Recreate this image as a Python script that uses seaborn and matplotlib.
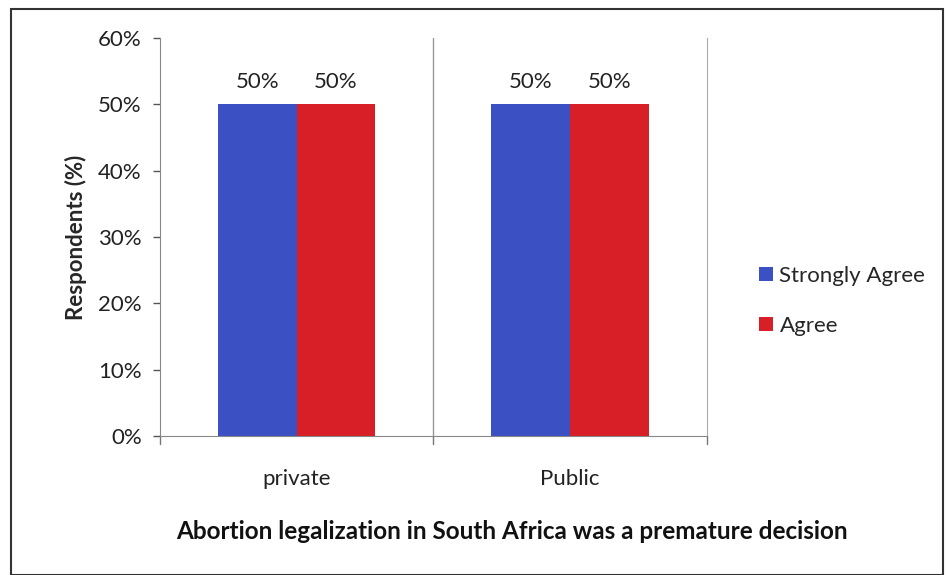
import numpy as np
import pandas as pd
import seaborn as sns
import matplotlib.pyplot as plt
from matplotlib.patches import Rectangle

# data
categories = ["private", "Public"]
responses = ["Strongly Agree", "Agree"]
strongly_agree = [50, 50]
agree = [50, 50]

df = pd.DataFrame({
    "sector": categories * 2,
    "response": [responses[0]] * 2 + [responses[1]] * 2,
    "pct": strongly_agree + agree,
})

sns.set_style("white")
plt.rcParams["font.family"] = ["Lato", "DejaVu Sans"]

fig = plt.figure(figsize=(9.46, 5.75), dpi=100)
ax = fig.add_axes([0.169, 0.2417, 0.578, 0.6923])

palette = {"Strongly Agree": "#3b50c2", "Agree": "#d81e26"}
sns.barplot(data=df, x="sector", y="pct", hue="response", palette=palette,
            width=0.575, saturation=1, linewidth=0, ax=ax, legend=True)

ax.set_xlim(-0.5, 1.5)
ax.set_ylim(0, 60)
ax.set_yticks(np.arange(0, 61, 10))
ax.set_yticklabels([f"{v}%" for v in range(0, 61, 10)], fontsize=16, color="#222222")
ax.set_xticks([0, 1])
ax.set_xticklabels(categories, fontsize=16, color="#222222")
ax.tick_params(axis="x", length=0, pad=24)
ax.tick_params(axis="y", length=5, width=1, color="#555555", left=True, pad=8)
ax.set_xlabel("")
ax.set_ylabel("Respondents (%)", fontsize=16, fontweight="bold", labelpad=8)

# category divider and boundary ticks
for xv in [-0.5, 0.5, 1.5]:
    ax.plot([xv, xv], [0, -1.2], color="#777777", lw=1, clip_on=False)
ax.axvline(0.5, color="#999999", lw=1)

for s in ["left", "bottom", "right"]:
    ax.spines[s].set_visible(True)
    ax.spines[s].set_color("#888888")
ax.spines["top"].set_visible(False)
ax.spines["right"].set_color("#aaaaaa")

for cont in ax.containers:
    ax.bar_label(cont, labels=[f"{v:.0f}%" for v in cont.datavalues],
                 padding=9, fontsize=16, color="#222222")

leg = ax.legend(loc="center left", bbox_to_anchor=(1.06, 0.34), frameon=False,
                fontsize=16, handlelength=0.6, handleheight=0.6, handletextpad=0.3,
                labelspacing=1.35)

fig.text(0.541, 0.075, "Abortion legalization in South Africa was a premature decision",
         ha="center", va="center", fontsize=17.5, fontweight="bold", color="#111111")

# outer frame
fig.patches.append(Rectangle((0.012, 0.0), 0.985, 0.985, transform=fig.transFigure,
                             fill=False, edgecolor="#333333", lw=1.5))

fig.savefig("out.png", dpi=100)
